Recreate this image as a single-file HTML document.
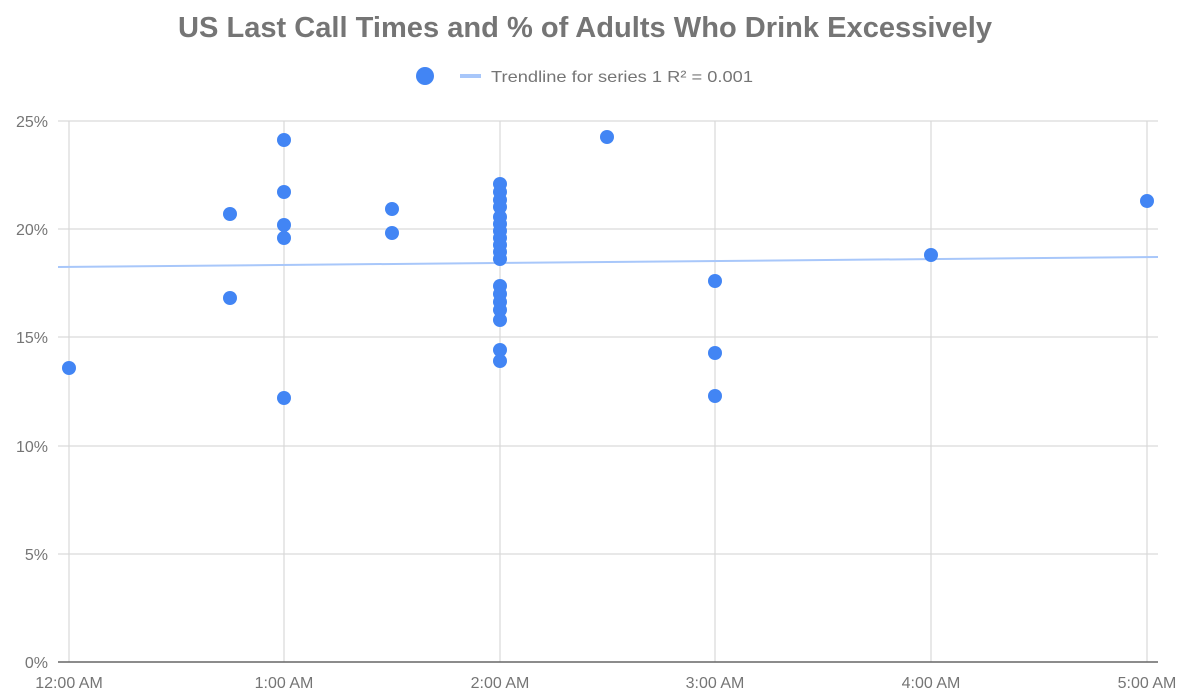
<!DOCTYPE html>
<html><head><meta charset="utf-8"><style>html,body{margin:0;padding:0;background:#fff}svg{display:block}</style></head>
<body>
<svg width="1189" height="697" viewBox="0 0 1189 697" xmlns="http://www.w3.org/2000/svg" font-family="Liberation Sans, sans-serif">
<text x="585" y="37" text-anchor="middle" font-size="29" font-weight="bold" fill="#757575" textLength="814" lengthAdjust="spacingAndGlyphs">US Last Call Times and % of Adults Who Drink Excessively</text>
<circle cx="425" cy="76" r="9" fill="#4285f4"/>
<line x1="460" y1="76" x2="481" y2="76" stroke="#a8c7fa" stroke-width="4"/>
<text x="491" y="82" font-size="16" fill="#757575" textLength="262" lengthAdjust="spacingAndGlyphs">Trendline for series 1 R² = 0.001</text>
<g stroke="#d9d9d9" stroke-width="1.2">
<line x1="58" y1="121" x2="1158" y2="121"/><line x1="58" y1="229" x2="1158" y2="229"/>
<line x1="58" y1="337" x2="1158" y2="337"/><line x1="58" y1="446" x2="1158" y2="446"/>
<line x1="58" y1="554" x2="1158" y2="554"/>
<line x1="69" y1="121" x2="69" y2="662"/><line x1="284" y1="121" x2="284" y2="662"/>
<line x1="500" y1="121" x2="500" y2="662"/><line x1="715" y1="121" x2="715" y2="662"/>
<line x1="931" y1="121" x2="931" y2="662"/><line x1="1147" y1="121" x2="1147" y2="662"/>
</g>
<line x1="58" y1="662" x2="1158" y2="662" stroke="#666" stroke-width="1.5"/>
<g font-size="16" fill="#757575" text-anchor="end">
<text x="48" y="127">25%</text><text x="48" y="235">20%</text><text x="48" y="343">15%</text>
<text x="48" y="452">10%</text><text x="48" y="560">5%</text><text x="48" y="668">0%</text>
</g>
<g font-size="16" fill="#757575" text-anchor="middle">
<text x="69" y="688">12:00 AM</text><text x="284" y="688">1:00 AM</text><text x="500" y="688">2:00 AM</text>
<text x="715" y="688">3:00 AM</text><text x="931" y="688">4:00 AM</text><text x="1147" y="688">5:00 AM</text>
</g>
<line x1="58" y1="267" x2="1158" y2="257" stroke="#a8c7fa" stroke-width="2"/>
<g fill="#4285f4">
<circle cx="69" cy="368" r="7"/>
<circle cx="230" cy="214" r="7"/><circle cx="230" cy="298" r="7"/>
<circle cx="284" cy="140" r="7"/><circle cx="284" cy="192" r="7"/><circle cx="284" cy="225" r="7"/><circle cx="284" cy="238" r="7"/><circle cx="284" cy="398" r="7"/>
<circle cx="392" cy="209" r="7"/><circle cx="392" cy="233" r="7"/>
<circle cx="500" cy="184" r="7"/><circle cx="500" cy="192" r="7"/><circle cx="500" cy="200" r="7"/><circle cx="500" cy="207" r="7"/>
<circle cx="500" cy="217" r="7"/><circle cx="500" cy="224" r="7"/><circle cx="500" cy="231" r="7"/><circle cx="500" cy="238" r="7"/>
<circle cx="500" cy="245" r="7"/><circle cx="500" cy="252" r="7"/><circle cx="500" cy="259" r="7"/>
<circle cx="500" cy="286" r="7"/><circle cx="500" cy="294" r="7"/><circle cx="500" cy="302" r="7"/><circle cx="500" cy="310" r="7"/><circle cx="500" cy="320" r="7"/>
<circle cx="500" cy="350" r="7"/><circle cx="500" cy="361" r="7"/>
<circle cx="607" cy="137" r="7"/>
<circle cx="715" cy="281" r="7"/><circle cx="715" cy="353" r="7"/><circle cx="715" cy="396" r="7"/>
<circle cx="931" cy="255" r="7"/>
<circle cx="1147" cy="201" r="7"/>
</g>
</svg>
</body></html>
